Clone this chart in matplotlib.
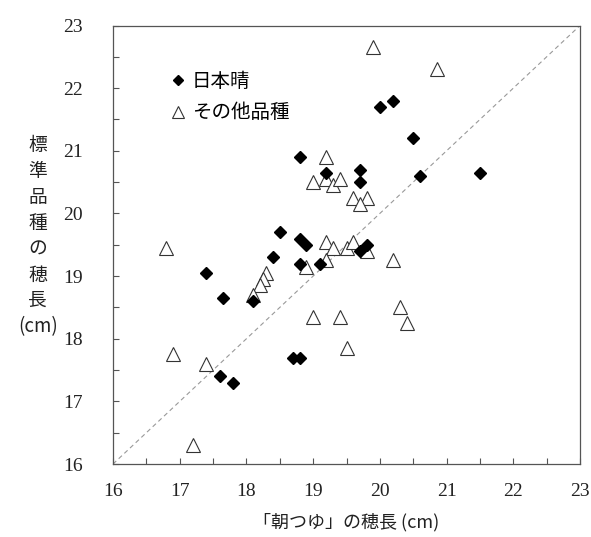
import numpy as np
import matplotlib
matplotlib.use("Agg")
import matplotlib.pyplot as plt
from matplotlib.ticker import MultipleLocator

plt.rcParams['font.family'] = ['Noto Sans CJK JP', 'DejaVu Sans']

# 日本晴 (standard variety: Nipponbare)
nip_x = [18.8, 19.2, 19.7, 19.7, 20.0, 20.2, 20.5, 20.6, 21.5, 18.5, 18.8, 18.9,
         18.8, 19.1, 19.7, 19.8, 18.4, 17.4, 17.65, 18.1, 18.7, 18.8, 17.6, 17.8]
nip_y = [20.9, 20.65, 20.7, 20.5, 21.7, 21.8, 21.2, 20.6, 20.65, 19.7, 19.6, 19.5,
         19.2, 19.2, 19.4, 19.5, 19.3, 19.05, 18.65, 18.6, 17.7, 17.7, 17.4, 17.3]

# その他品種 (other standard varieties)
oth_x = [19.9, 20.85, 19.2, 19.0, 19.2, 19.3, 19.4, 19.6, 19.8, 19.7, 16.8, 19.2,
         19.3, 19.5, 19.6, 19.8, 18.9, 19.2, 18.3, 18.25, 18.2, 18.1, 20.2, 19.0,
         19.4, 19.5, 20.3, 20.4, 16.9, 17.4, 17.2]
oth_y = [22.65, 22.3, 20.9, 20.5, 20.55, 20.45, 20.55, 20.25, 20.25, 20.15, 19.45, 19.55,
         19.45, 19.45, 19.55, 19.4, 19.15, 19.25, 19.05, 18.95, 18.85, 18.7, 19.25, 18.35,
         18.35, 17.85, 18.5, 18.25, 17.75, 17.6, 16.3]

ticks = [16, 17, 18, 19, 20, 21, 22, 23]

fig = plt.figure(figsize=(5.91, 5.37), dpi=100)
ax = fig.add_axes([0.1912, 0.1359, 0.7902, 0.8166])

# 1:1 reference line
ax.plot([ticks[0], ticks[-1]], [ticks[0], ticks[-1]], color='#999999',
        lw=0.8, ls=(0, (4, 3)), zorder=1)

ax.plot(oth_x, oth_y, ls='none', marker='^', ms=9.5, mfc='white', mec='#333333',
        mew=0.8, label='その他品種', zorder=2)
ax.plot(nip_x, nip_y, ls='none', marker='D', ms=6.5, mfc='black', mec='black',
        label='日本晴', zorder=3)

ax.set_xlim(16, 23)
ax.set_ylim(16, 23)
for axis in (ax.xaxis, ax.yaxis):
    axis.set_major_locator(MultipleLocator(1))
    axis.set_minor_locator(MultipleLocator(0.5))
ax.set_xticks(ticks)
ax.set_yticks(ticks)
ax.tick_params(which='both', direction='in', length=4, width=0.8, color='#555555')
ax.tick_params(axis='x', pad=14)
ax.tick_params(axis='y', pad=22)
for lab in ax.get_xticklabels() + ax.get_yticklabels():
    lab.set_fontfamily('Liberation Serif')
    lab.set_fontsize(14)
    lab.set_color('#222222')
for sp in ax.spines.values():
    sp.set_color('#555555')
    sp.set_linewidth(0.9)

handles, labels = ax.get_legend_handles_labels()
leg = ax.legend(handles[::-1], labels[::-1], loc='upper left',
                bbox_to_anchor=(0.09, 0.937), frameon=False, fontsize=14,
                handlelength=0.6, handletextpad=0.4, labelspacing=0.55,
                markerscale=0.85)

ax.set_xlabel('「朝つゆ」の穂長 (cm)', fontsize=13, labelpad=9, color='#222222')
fig.text(0.064, 0.56, '標\n準\n品\n種\nの\n穂\n長\n(cm)', ha='center', va='center',
         fontsize=13.5, linespacing=1.3, color='#222222')

fig.savefig('out.png', dpi=100)
